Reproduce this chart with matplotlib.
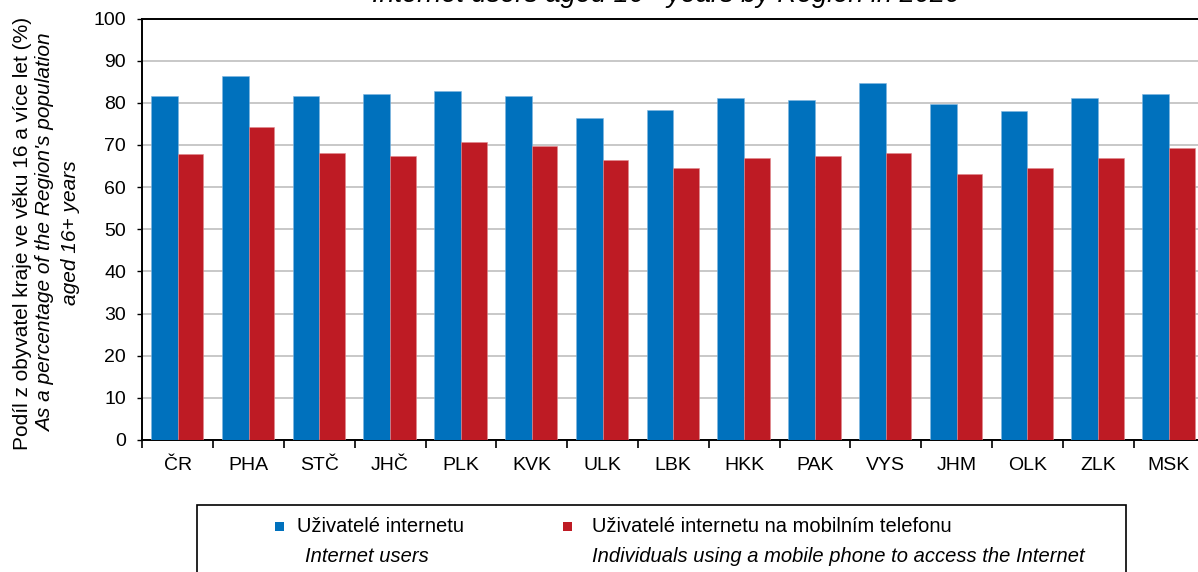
import matplotlib.pyplot as plt
from matplotlib import font_manager
from matplotlib.patches import Rectangle
import numpy as np

regions = ['ČR', 'PHA', 'STČ', 'JHČ', 'PLK', 'KVK', 'ULK', 'LBK',
           'HKK', 'PAK', 'VYS', 'JHM', 'OLK', 'ZLK', 'MSK']
internet_users = [81.6, 86.3, 81.6, 82.1, 82.9, 81.6, 76.5, 78.4,
                  81.1, 80.7, 84.8, 79.8, 78.0, 81.1, 82.1]
mobile_users = [67.8, 74.2, 68.2, 67.3, 70.6, 69.7, 66.4, 64.6,
                66.8, 67.3, 68.2, 63.2, 64.6, 66.8, 69.2]

label_cz = ['Uživatelé internetu', 'Uživatelé internetu na mobilním telefonu']
label_en = ['Internet users', 'Individuals using a mobile phone to access the Internet']
title = 'Internet users aged 16+ years by Region in 2020'

BLUE = '#0071bd'
RED = '#be1b24'

names = {f.name for f in font_manager.fontManager.ttflist}
plt.rcParams['font.family'] = ['Liberation Sans', 'DejaVu Sans']
narrow = 'Liberation Sans Narrow' if 'Liberation Sans Narrow' in names else 'Liberation Sans'
leg_size = 16 if narrow == 'Liberation Sans Narrow' else 14.5

W, H = 1198, 572
fig = plt.figure(figsize=(W / 100, H / 100), dpi=100)
ax = fig.add_axes([142.3 / W, 1 - 440 / H, 1062 / W, (440 - 18.5) / H])

x = np.arange(len(regions))
ax.bar(x - 0.377, internet_users, width=0.377, align='edge', color=BLUE,
       edgecolor='#7fb6e0', linewidth=0.4, zorder=3)
ax.bar(x, mobile_users, width=0.362, align='edge', color=RED,
       edgecolor='#e08a8f', linewidth=0.4, zorder=3)

ax.set_xlim(-0.5, len(regions) - 0.5)
ax.set_ylim(0, 100)
ax.set_yticks(range(0, 101, 10))
ax.set_xticks(x)
ax.set_xticklabels(regions)
ax.set_xticks(np.arange(len(regions) + 1) - 0.5, minor=True)
ax.tick_params(axis='x', which='major', length=0, pad=12, labelsize=14)
ax.tick_params(axis='x', which='minor', length=5.5, width=1.2, direction='out')
ax.tick_params(axis='y', length=3.8, width=1, direction='out', pad=8, labelsize=14)
ax.grid(axis='y', color='#c4c4c4', linewidth=1.3, zorder=0)
ax.set_axisbelow(True)
for side in ['left', 'bottom', 'top']:
    ax.spines[side].set_linewidth(1.4)
    ax.spines[side].set_color('black')
ax.spines['right'].set_visible(False)

# title sits at the very top edge
fig.text(666 / W, 1 - 2 / H, title, ha='center', va='baseline',
         fontsize=19.5, style='italic')

# y axis caption, three rotated lines
cy = 1 - 233 / H
fig.text(23 / W, cy, 'Podíl z obyvatel kraje ve věku 16 a více let (%)',
         rotation=90, ha='center', va='center', fontsize=15)
fig.text(46 / W, cy, "As a percentage of the Region's population",
         rotation=90, ha='center', va='center', fontsize=15, style='italic')
fig.text(70 / W, cy, 'aged 16+ years',
         rotation=90, ha='center', va='center', fontsize=15, style='italic')

# legend box, running off the bottom of the figure
fig.add_artist(Rectangle((197 / W, -0.05), (1126 - 197) / W, 0.05 + 1 - 505 / H,
                         transform=fig.transFigure, facecolor='none',
                         edgecolor='black', linewidth=1.2))
legend_pos = [(275, 297, 305), (563, 592, 592)]
for color, cz, en, (sq_x, txt_x, en_x) in zip([BLUE, RED], label_cz, label_en, legend_pos):
    fig.add_artist(Rectangle((sq_x / W, 1 - 531 / H), 9 / W, 9 / H,
                             transform=fig.transFigure, facecolor=color,
                             edgecolor='none'))
    fig.text(txt_x / W, 1 - 527 / H, cz, ha='left', va='center',
             fontsize=leg_size, family=narrow)
    fig.text(en_x / W, 1 - 556 / H, en, ha='left', va='center',
             fontsize=leg_size, family=narrow, style='italic')

fig.savefig('out.png', dpi=100)
